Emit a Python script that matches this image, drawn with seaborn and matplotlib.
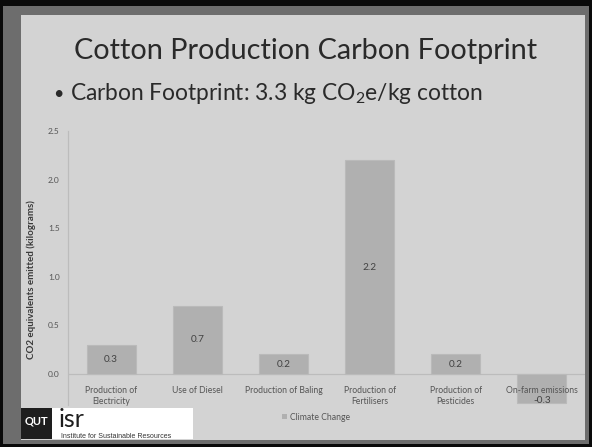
import matplotlib
matplotlib.use("Agg")
import matplotlib.pyplot as plt
import matplotlib.patches as mpatches
import pandas as pd
import seaborn as sns

# Emission sources and CO2-equivalent values (kg per kg of cotton)
categories = [
    "Production of\nElectricity",
    "Use of Diesel",
    "Production of Baling",
    "Production of\nFertilisers",
    "Production of\nPesticides",
    "On-farm emissions",
]
values = [0.3, 0.7, 0.2, 2.2, 0.2, -0.3]
value_labels = ["0.3", "0.7", "0.2", "2.2", "0.2", "-0.3"]
y_ticks = [0.0, 0.5, 1.0, 1.5, 2.0, 2.5]
y_tick_labels = ["0.0", "0.5", "1.0", "1.5", "2.0", "2.5"]
series_name = "Climate Change"

sns.set_theme(style="white")
plt.rcParams["font.family"] = ["Lato", "DejaVu Sans"]
plt.rcParams["mathtext.default"] = "regular"

W, H = 592, 447
fig = plt.figure(figsize=(W / 100, H / 100), dpi=100, facecolor="#0a0a0a")


def fx(x):
    return x / W


def fy(y):
    return 1 - y / H


def rect(x0, y0, x1, y1, color, z=0):
    fig.patches.append(mpatches.Rectangle((fx(x0), fy(y1)), fx(x1) - fx(x0), fy(y0) - fy(y1),
                                          transform=fig.transFigure, facecolor=color,
                                          edgecolor="none", zorder=z))


# slide frame and panel
rect(3, 6, 589, 444, "#6d6d6d", 0)
rect(21, 15, 585, 440, "#d3d3d3", 1)

bar_color = "#b0b0b0"
text_color = "#424242"

ax = fig.add_axes([fx(68), fy(405), fx(585) - fx(68), fy(131) - fy(405)])
ax.set_facecolor("none")
ax.set_zorder(3)

df = pd.DataFrame({"source": categories, "co2e": values})
sns.barplot(data=df, x="source", y="co2e", color=bar_color, saturation=1,
            width=0.57, edgecolor="#bababa", linewidth=0.8, ax=ax)

ax.set_xlim(-0.5, len(categories) - 0.5)
ax.set_ylim(-0.32, 2.5)
ax.set_yticks(y_ticks)
ax.set_yticklabels(y_tick_labels)
ax.axhline(0, color="#bcbcbc", lw=0.9, zorder=0.5)

for s in ["top", "right", "bottom"]:
    ax.spines[s].set_visible(False)
ax.spines["left"].set_color("#bcbcbc")
ax.spines["left"].set_linewidth(0.9)

ax.tick_params(axis="y", length=0, pad=6, labelsize=6, labelcolor="#555555")
ax.tick_params(axis="x", length=0, pad=-13.5, labelsize=6.2, labelcolor="#555555")
ax.xaxis.set_zorder(10)
ax.set_xlabel("")
ax.set_ylabel("")

# value labels: centred in positive bars, near the lower end of negative ones
for i, (v, lab) in enumerate(zip(values, value_labels)):
    ty = v / 2 if v >= 0 else v * 0.9
    ax.text(i, ty, lab, ha="center", va="center", fontsize=7.2, color=text_color, zorder=11)

# y axis title
fig.text(fx(31), fy(280), "CO2 equivalents emitted (kilograms)", rotation=90,
         ha="center", va="center", fontsize=7, fontweight="bold", color="#3a3a3a")

# legend
handle = mpatches.Patch(facecolor=bar_color, edgecolor="none")
fig.legend([handle], [series_name], loc="center", bbox_to_anchor=(fx(316), fy(417)),
           frameon=False, fontsize=6.2, handlelength=0.6, handleheight=0.6,
           handletextpad=0.4, labelcolor="#555555")

# slide heading and bullet
fig.text(fx(305.5), fy(59), "Cotton Production Carbon Footprint", ha="center", va="baseline",
         fontsize=20.8, color="#2a2a2a", zorder=5)
fig.text(fx(53), fy(99), "\u2022", ha="left", va="baseline", fontsize=13, color="#2a2a2a")
fig.text(fx(70), fy(100), "Carbon Footprint: 3.3 kg CO$_2$e/kg cotton", ha="left",
         va="baseline", fontsize=16.4, color="#2a2a2a")

# institute logo
rect(21, 408, 193, 439, "#ffffff", 4)
rect(21, 408, 52, 439, "#1e1e1e", 5)
fig.text(fx(36.5), fy(421), "QUT", ha="center", va="center", fontsize=8,
         fontweight="bold", color="white", zorder=6)
fig.text(fx(59), fy(427), "isr", ha="left", va="baseline", fontsize=18,
         color="#1e1e1e", zorder=6)
fig.text(fx(61), fy(438), "Institute for Sustainable Resources", ha="left",
         va="baseline", fontsize=5, color="#333333", zorder=6,
         family=["Liberation Sans", "DejaVu Sans"])

fig.savefig("out.png", dpi=100, facecolor=fig.get_facecolor())
